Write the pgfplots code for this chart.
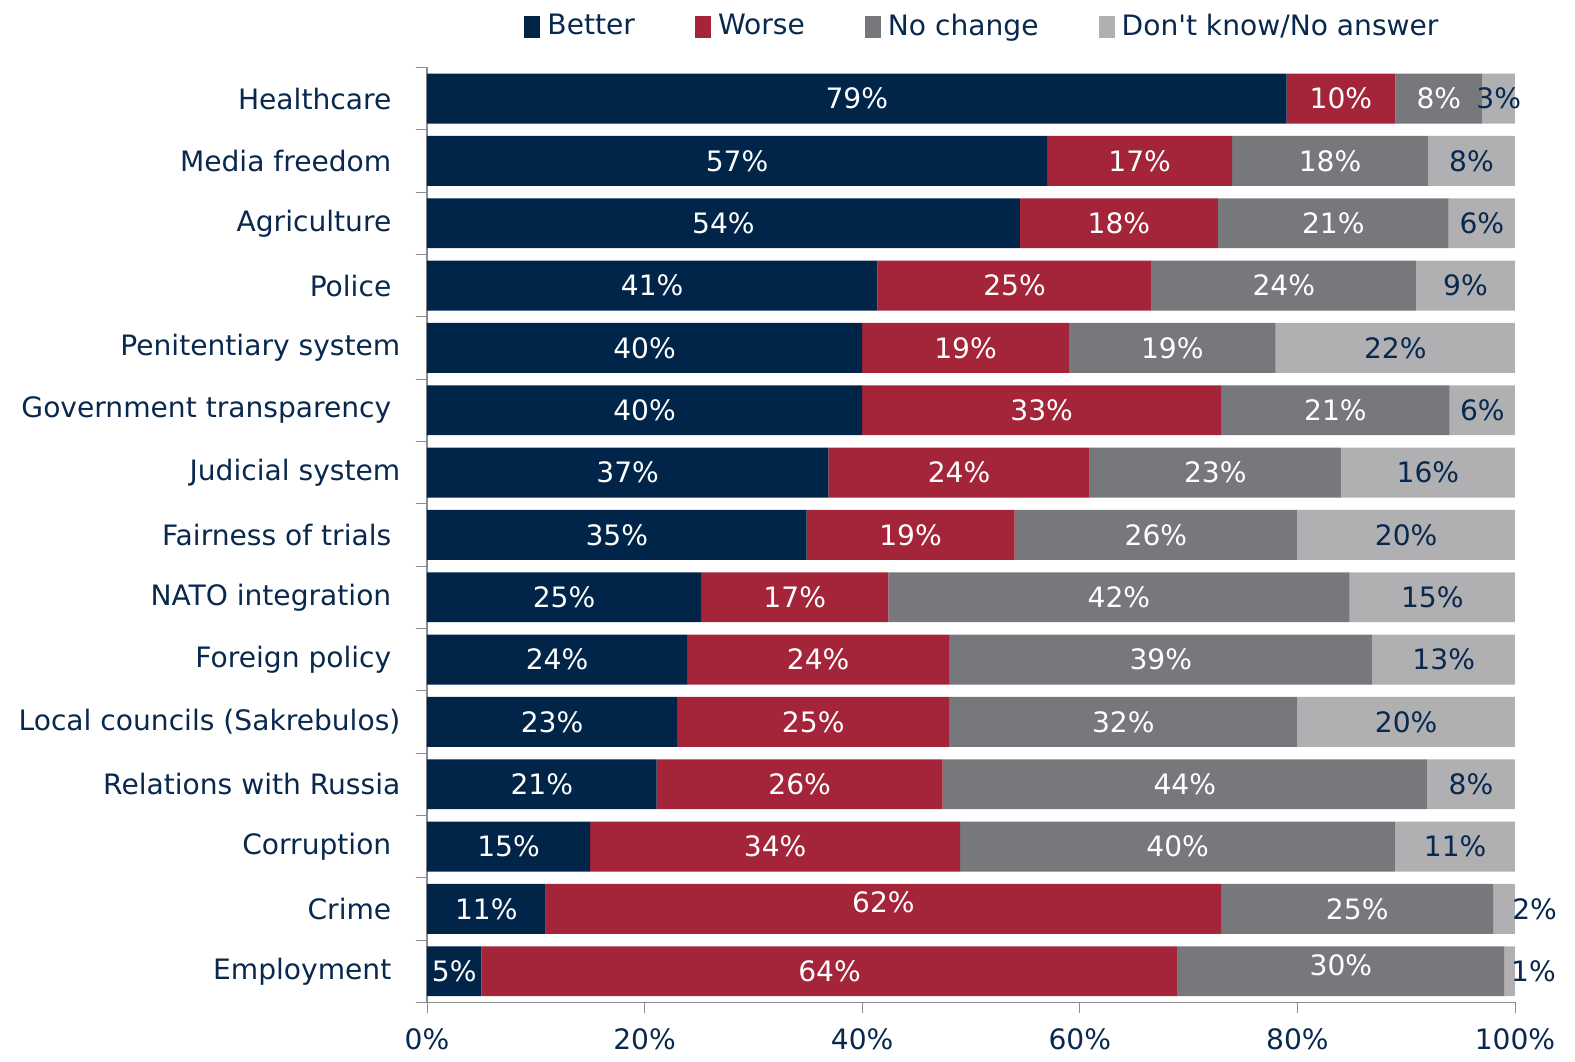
\documentclass[border=0pt]{standalone}
\usepackage{pgfplots}
\pgfplotsset{compat=1.18}
\usepackage{pgfplotstable}
\usepackage{fontspec}
\setmainfont{DejaVu Sans}

\definecolor{cBetter}{RGB}{0,37,72}
\definecolor{cWorse}{RGB}{164,37,57}
\definecolor{cNo}{RGB}{119,120,123}
\definecolor{cDk}{RGB}{176,176,178}
\definecolor{txt}{RGB}{8,40,78}

\newcommand{\lblfont}{\fontsize{8}{9.5}\selectfont}

% y: row position (Healthcare on top), b/w/n/d: shares, *l: printed labels
% z: no shift, wy/ny: small lifts of some labels, dx: shift of outside labels
\pgfplotstableread{
y    b    bl w    wl n    nl d    dl z dx  wy  ny
14.5 79   79 10   10 8    8  3    3  0 0   0   0
13.5 57   57 17   17 18   18 8    8  0 0   0   0
12.5 54.5 54 18.2 18 21.2 21 6.1  6  0 0   0   0
11.5 41.4 41 25.2 25 24.3 24 9.1  9  0 0   0   0
10.5 40   40 19   19 19   19 22   22 0 0   0   0
9.5  40   40 33   33 21   21 6    6  0 0   0   0
8.5  36.9 37 24   24 23.1 23 16   16 0 0   0   0
7.5  34.9 35 19.1 19 26   26 20   20 0 0   0   0
6.5  25.2 25 17.2 17 42.4 42 15.2 15 0 0   0   0
5.5  23.9 24 24.1 24 38.9 39 13.1 13 0 0   0   0
4.5  23   23 25   25 32   32 20   20 0 0   0   0
3.5  21.1 21 26.3 26 44.5 44 8.1  8  0 0   0   0
2.5  15   15 34   34 40   40 11   11 0 0   0   0
1.5  10.9 11 62.1 62 25   25 2    2  0 2.8 0.1 0
0.5  5    5  64   64 30   30 1    1  0 2.2 0   0.1
}\data

\begin{document}
\begin{tikzpicture}
\pgfplotsset{
  lbl/.style n args={3}{
    point meta=explicit symbolic,
    nodes near coords={\pgfplotspointmeta\%},
    visualization depends on={\thisrow{#1} \as \sx},
    visualization depends on={\thisrow{#2} \as \sy},
    every node near coord/.append style={anchor=center, inner sep=0pt,
      text=#3, font=\lblfont,
      shift={(axis direction cs:\sx,\sy)}},
  },
}
\begin{axis}[
  scale only axis, width=10.88cm, height=9.35cm,
  xbar stacked, bar width=0.8,
  xmin=0, xmax=100, ymin=0, ymax=15,
  axis x line*=bottom, axis y line*=left,
  axis line style={black!45},
  tick style={black!45},
  tick align=outside, major tick length=0.11cm,
  xtick={0,20,...,100},
  xticklabel={\pgfmathprintnumber{\tick}\%},
  xticklabel style={inner sep=0pt, yshift=-0.14cm},
  ytick={0,...,15}, yticklabels={},
  extra y ticks={0.5,1.5,...,14.5},
  extra y tick labels={Employment\kern0.09cm,Crime\kern0.09cm,Corruption\kern0.09cm,Relations with Russia,Local councils (Sakrebulos),Foreign policy\kern0.09cm,NATO integration\kern0.09cm,Fairness of trials\kern0.09cm,Judicial system,Government transparency\kern0.09cm,Penitentiary system,Police\kern0.09cm,Agriculture\kern0.09cm,Media freedom\kern0.09cm,Healthcare\kern0.09cm},
  extra y tick style={tick style={draw=none}},
  yticklabel style={inner sep=0pt, xshift=-0.15cm},
  ticklabel style={font=\lblfont, text=txt},
  /pgf/number format/assume math mode=true,
  legend columns=4,
  legend style={at={(0.5,1)}, anchor=south, xshift=0.14cm, yshift=0.12cm,
    draw=none, font=\lblfont, text=txt,
    /tikz/every even column/.append style={column sep=0.53cm}},
  legend image code/.code={\fill[#1] (0cm,-0.11cm) rectangle (0.16cm,0.11cm);},
]
\addplot[fill=cBetter, draw=none, lbl={z}{z}{white}] table[x=b, y=y, meta=bl]{\data};
\addplot[fill=cWorse, draw=none, lbl={z}{wy}{white}] table[x=w, y=y, meta=wl]{\data};
\addplot[fill=cNo, draw=none, lbl={z}{ny}{white}] table[x=n, y=y, meta=nl]{\data};
\addplot[fill=cDk, draw=none, lbl={dx}{z}{txt}] table[x=d, y=y, meta=dl]{\data};
\legend{Better, Worse, No change, Don\textquotesingle t know/No answer}
\coordinate (ll) at (rel axis cs:0,0);
\coordinate (ur) at (rel axis cs:1,1);
\end{axis}
\path ([shift={(-4.27cm,-0.59cm)}]ll) rectangle ([shift={(0.6cm,0.65cm)}]ur);
\end{tikzpicture}
\end{document}
